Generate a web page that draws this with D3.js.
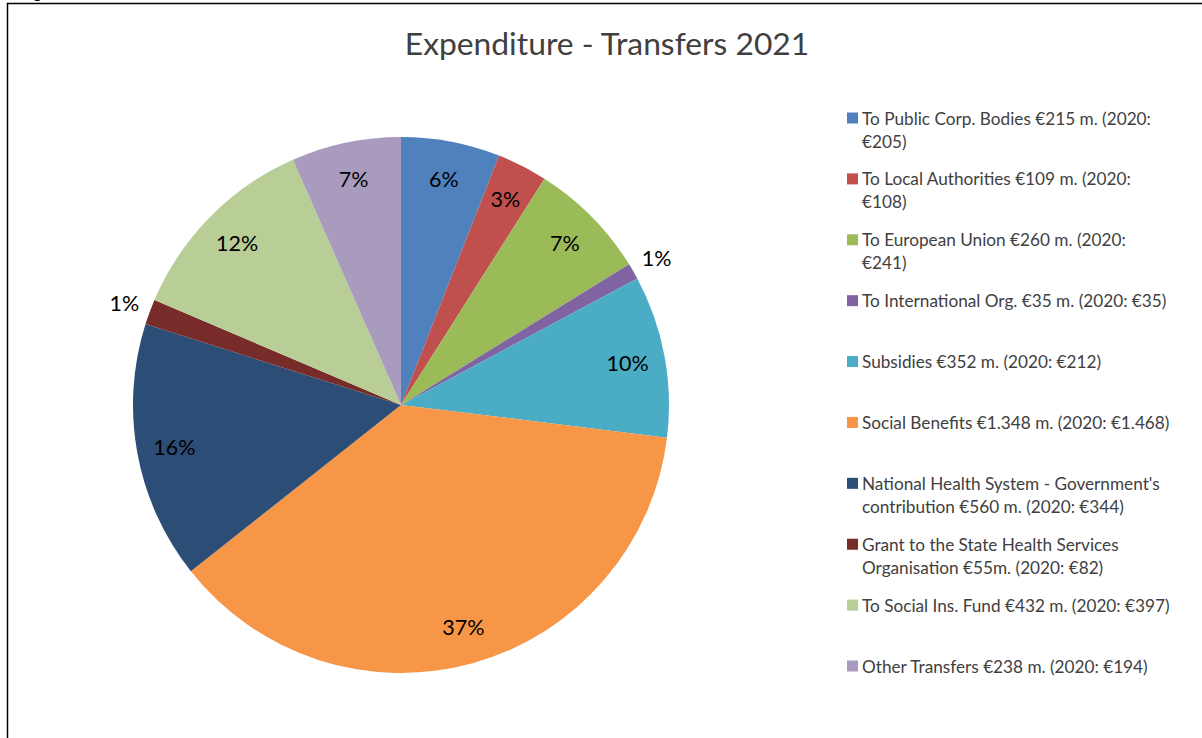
<!DOCTYPE html>
<html lang="en">
<head>
    <meta charset="UTF-8">
    <title>Expenditure - Transfers 2021</title>
    <script src="https://d3js.org/d3.v7.min.js"></script>
    <style>
        body { margin: 0; background: #fff; }
        svg { display: block; font-family: Lato, "Open Sans", sans-serif; }
    </style>
</head>
<body>
    <svg id="chart" width="1202" height="738"></svg>

    <script>
        // data (million euro, 2021)
        const categories = [
            "To Public Corp. Bodies €215 m. (2020:\n€205)",
            "To Local Authorities €109 m. (2020:\n€108)",
            "To European Union €260 m. (2020:\n€241)",
            "To International Org. €35 m. (2020: €35)",
            "Subsidies €352 m. (2020: €212)",
            "Social Benefits €1.348 m. (2020: €1.468)",
            "National Health System - Government's\ncontribution €560 m. (2020: €344)",
            "Grant to the State Health Services\nOrganisation €55m. (2020: €82)",
            "To Social Ins. Fund €432 m. (2020: €397)",
            "Other Transfers €238 m. (2020: €194)"
        ];
        const values = [215, 109, 260, 35, 352, 1348, 560, 55, 432, 238];
        const pctLabels = ["6%", "3%", "7%", "1%", "10%", "37%", "16%", "1%", "12%", "7%"];
        const colors = ["#4F81BD", "#C0504D", "#9BBB59", "#8064A2", "#4BACC6",
            "#F79646", "#2C4D75", "#772C2A", "#B9CD96", "#A99BBD"];

        const svg = d3.select("#chart");
        const width = +svg.attr("width");
        const height = +svg.attr("height");

        // frame of the chart area (runs off the page at right and bottom)
        svg.append("rect")
            .attr("x", 7.5)
            .attr("y", 3.5)
            .attr("width", width + 20)
            .attr("height", height + 20)
            .attr("fill", "none")
            .attr("stroke", "#000")
            .attr("stroke-width", 1.5);

        // descender of the caption above, cut by the page
        svg.append("text")
            .attr("x", 33)
            .attr("y", -2)
            .style("font-size", "17px")
            .style("fill", "#000")
            .text("g");

        svg.append("text")
            .attr("x", 607)
            .attr("y", 55)
            .attr("text-anchor", "middle")
            .style("font-size", "31.8px")
            .style("fill", "#404040")
            .text("Expenditure - Transfers 2021");

        const cx = 401, cy = 405, radius = 268;
        const total = d3.sum(values);
        const data = values.map((v, i) => ({ name: categories[i], value: v, label: pctLabels[i], color: colors[i] }));

        const pie = d3.pie().sort(null).value(d => d.value);
        const arcs = pie(data);
        const arc = d3.arc().innerRadius(0).outerRadius(radius);
        const inLabel = d3.arc().innerRadius(radius * 0.86).outerRadius(radius * 0.86);
        const outLabel = d3.arc().innerRadius(radius + 27).outerRadius(radius + 27);

        const g = svg.append("g").attr("transform", `translate(${cx},${cy})`);

        g.selectAll("path")
            .data(arcs)
            .join("path")
            .attr("d", arc)
            .attr("fill", d => d.data.color);

        g.selectAll("text.pct")
            .data(arcs)
            .join("text")
            .attr("class", "pct")
            .attr("transform", d => {
                const small = d.data.value / total < 0.02;
                return `translate(${(small ? outLabel : inLabel).centroid(d)})`;
            })
            .attr("text-anchor", "middle")
            .attr("dominant-baseline", "central")
            .style("font-size", "21.5px")
            .style("fill", "#000")
            .text(d => d.data.label);

        // legend
        const legendY = d3.scalePoint().domain(d3.range(categories.length)).range([118, 666]);
        const legend = svg.append("g");
        const items = legend.selectAll("g")
            .data(data)
            .join("g")
            .attr("transform", (d, i) => `translate(847,${legendY(i)})`);

        items.append("rect")
            .attr("x", 0)
            .attr("y", -5.5)
            .attr("width", 11)
            .attr("height", 11)
            .attr("fill", d => d.color);

        items.append("text")
            .style("font-size", "17.2px")
            .style("fill", "#404040")
            .selectAll("tspan")
            .data(d => d.name.split("\n"))
            .join("tspan")
            .attr("x", 15)
            .attr("y", (d, i) => i * 23)
            .attr("dominant-baseline", "central")
            .text(d => d);
    </script>
</body>
</html>
